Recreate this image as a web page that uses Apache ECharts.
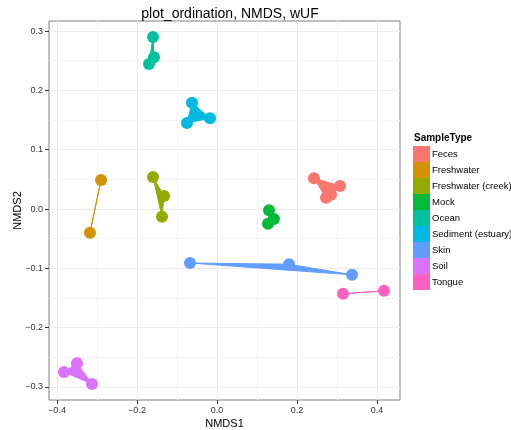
<!DOCTYPE html>
<html>
<head>
<meta charset="utf-8">
<script src="https://cdn.jsdelivr.net/npm/echarts@6/dist/echarts.min.js"></script>
<style>
  html, body { margin: 0; padding: 0; background: #fff; }
  #main { width: 511px; height: 430px; }
</style>
</head>
<body>
<div id="main"></div>
<script>
// sample types and ggplot hue colours
var sampleTypes = ['Feces', 'Freshwater', 'Freshwater (creek)', 'Mock', 'Ocean',
                   'Sediment (estuary)', 'Skin', 'Soil', 'Tongue'];
var colors = ['#F8766D', '#D39200', '#93AA00', '#00BA38', '#00C19F',
              '#00B9E3', '#619CFF', '#DB72FB', '#FF61C3'];

// NMDS coordinates per sample type
var fecesX = [0.2425, 0.3075, 0.285, 0.2725];
var fecesY = [0.052, 0.039, 0.024, 0.019];
var freshwaterX = [-0.29, -0.3175];
var freshwaterY = [0.049, -0.040];
var creekX = [-0.16, -0.1325, -0.1375];
var creekY = [0.054, 0.022, -0.013];
var mockX = [0.13, 0.1425, 0.1275];
var mockY = [-0.002, -0.017, -0.025];
var oceanX = [-0.16, -0.1575, -0.17];
var oceanY = [0.29, 0.256, 0.2445];
var sedimentX = [-0.0625, -0.0175, -0.075];
var sedimentY = [0.179, 0.153, 0.145];
var skinX = [-0.0675, 0.18, 0.3375];
var skinY = [-0.091, -0.093, -0.111];
var soilX = [-0.35, -0.3825, -0.3125];
var soilY = [-0.26, -0.275, -0.295];
var tongueX = [0.315, 0.4175];
var tongueY = [-0.143, -0.138];

var groupX = [fecesX, freshwaterX, creekX, mockX, oceanX, sedimentX, skinX, soilX, tongueX];
var groupY = [fecesY, freshwaterY, creekY, mockY, oceanY, sedimentY, skinY, soilY, tongueY];

var xMajor = [-0.4, -0.2, 0, 0.2, 0.4];
var xMinor = [-0.3, -0.1, 0.1, 0.3];
var yMajor = [-0.3, -0.2, -0.1, 0, 0.1, 0.2, 0.3];
var yMinor = [-0.25, -0.15, -0.05, 0.05, 0.15, 0.25];

var font = 'Liberation Sans, Arial, sans-serif';
var myChart = echarts.init(document.getElementById('main'));

var series = [];
sampleTypes.forEach(function (name, g) {
  var pts = groupX[g].map(function (x, i) { return [x, groupY[g][i]]; });
  // polygon joining the samples of one type
  series.push({
    name: name,
    type: 'custom',
    z: 2,
    silent: true,
    itemStyle: { color: colors[g] },
    data: [pts[0]],
    renderItem: function (params, api) {
      var p = pts.map(function (d) { return api.coord(d); });
      return {
        type: 'polygon',
        shape: { points: p },
        style: { fill: colors[g], stroke: colors[g], lineWidth: 1 }
      };
    }
  });
  series.push({
    name: name,
    type: 'scatter',
    z: 3,
    symbolSize: 12,
    itemStyle: { color: colors[g], opacity: 1 },
    data: pts
  });
});

function axisFmt(v) {
  if (Math.abs(v) < 1e-9) return '0.0';
  return (v < 0 ? '\u2212' : '') + Math.abs(v).toFixed(1);
}

myChart.setOption({
  backgroundColor: '#fff',
  animation: false,
  title: [{
    text: 'plot_ordination, NMDS, wUF',
    left: 225, top: 2, textAlign: 'center',
    textStyle: { fontFamily: font, fontSize: 14, fontWeight: 'normal', color: '#000' }
  }, {
    text: 'SampleType',
    left: 409, top: 128,
    textStyle: { fontFamily: font, fontSize: 10, fontWeight: 'bold', color: '#000' }
  }],
  legend: {
    orient: 'vertical',
    left: 413, top: 146,
    padding: 0,
    icon: 'rect',
    itemWidth: 17, itemHeight: 16, itemGap: 0,
    data: sampleTypes,
    textStyle: { fontFamily: font, fontSize: 9.5, color: '#000', padding: [0, 0, 0, -3] }
  },
  grid: { left: 49, right: 111, top: 21, bottom: 30, show: true, borderColor: '#7f7f7f', borderWidth: 1,
          containLabel: false, outerBoundsMode: 'none' },
  xAxis: [{
    type: 'value', min: -0.42, max: 0.4575,
    name: 'NMDS1', nameLocation: 'middle', nameGap: 18, nameMoveOverlap: false,
    nameTextStyle: { fontFamily: font, fontSize: 11, color: '#000' },
    axisLine: { show: false, onZero: false },
    axisTick: { show: true, length: 4, customValues: xMajor, lineStyle: { color: '#333' } },
    axisLabel: { customValues: xMajor, formatter: axisFmt, fontFamily: font, fontSize: 9, color: '#333', margin: 6 },
    splitLine: { show: true, lineStyle: { color: '#ebebeb', width: 1 } }
  }, {
    type: 'value', min: -0.42, max: 0.4575, position: 'bottom',
    axisLine: { show: false, onZero: false },
    axisTick: { show: false, customValues: xMinor },
    axisLabel: { show: false, customValues: xMinor },
    splitLine: { show: true, lineStyle: { color: '#f4f4f4', width: 1 } }
  }],
  yAxis: [{
    type: 'value', min: -0.322, max: 0.317,
    name: 'NMDS2', nameLocation: 'middle', nameGap: 26, nameRotate: 90, nameMoveOverlap: false,
    nameTextStyle: { fontFamily: font, fontSize: 11, color: '#000' },
    axisLine: { show: false, onZero: false },
    axisTick: { show: true, length: 4, customValues: yMajor, lineStyle: { color: '#333' } },
    axisLabel: { customValues: yMajor, formatter: axisFmt, fontFamily: font, fontSize: 9, color: '#333', margin: 6 },
    splitLine: { show: true, lineStyle: { color: '#ebebeb', width: 1 } }
  }, {
    type: 'value', min: -0.322, max: 0.317, position: 'left',
    axisLine: { show: false, onZero: false },
    axisTick: { show: false, customValues: yMinor },
    axisLabel: { show: false, customValues: yMinor },
    splitLine: { show: true, lineStyle: { color: '#f4f4f4', width: 1 } }
  }],
  series: series
});
</script>
</body>
</html>
